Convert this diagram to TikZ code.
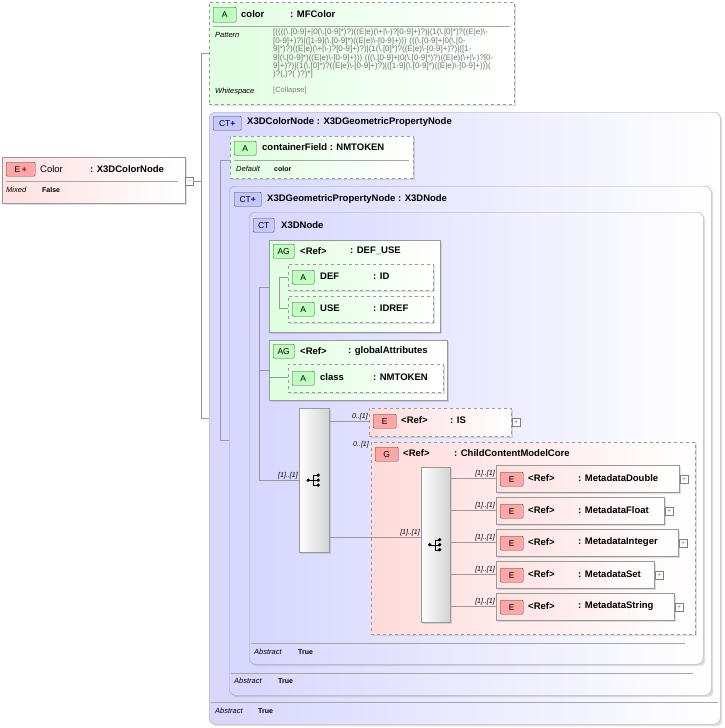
\documentclass[tikz,border=0pt]{standalone}
\usepackage{fontspec}
\setmainfont{Liberation Sans}
\usetikzlibrary{shadows}
\begin{document}
\begin{tikzpicture}[x=1pt,y=-1pt,
  box/.style={draw=#1, inner sep=0pt, anchor=north west, drop shadow={opacity=0.25,shadow xshift=2pt,shadow yshift=-2pt}},
  grn/.style={box=gray!80, dashed, left color=green!12, right color=white},
  grns/.style={box=gray!80, left color=green!12, right color=white},
  pnk/.style={box=gray!80, dashed, left color=red!14, right color=white},
  pnks/.style={box=gray!80, left color=red!12, right color=white},
  ct/.style={box=gray!70, rounded corners=6pt, left color=blue!16, right color=white},
  seq/.style={box=gray!80, left color=white, right color=gray!35},
  bdg/.style={draw=black!70, anchor=north west, inner sep=0pt, font=\fontsize{8.5}{8.5}\selectfont, rounded corners=1pt},
  bA/.style={bdg, fill=green!25},
  bE/.style={bdg, fill=red!35},
  bC/.style={bdg, fill=blue!22},
  tt/.style={anchor=west, inner sep=0pt, font=\fontsize{9.5}{10}\bfseries\selectfont},
  tn/.style={anchor=west, inner sep=0pt, font=\fontsize{9.5}{10}\selectfont},
  sm/.style={anchor=west, inner sep=0pt, font=\fontsize{7.5}{8}\itshape\selectfont},
  smb/.style={anchor=west, inner sep=0pt, font=\fontsize{7}{8}\bfseries\selectfont},
  card/.style={anchor=south east, inner sep=1pt, font=\fontsize{7}{8}\itshape\selectfont},
  pl/.style={draw=gray, fill=white, minimum size=8pt, inner sep=0pt, anchor=west, font=\fontsize{7}{7}\selectfont, text=gray},
  ln/.style={draw=gray!80, line width=0.6pt},
  sep/.style={draw=gray!70}]
\useasboundingbox (0,0) rectangle (724,728);
\newcommand\bx[6]{\node[#6, minimum width={(#4-#2)*1pt}, minimum height={(#5-#3)*1pt}] (#1) at (#2,#3) {};}
% outer CT
\bx{ctA}{209}{112}{720}{724}{ct}
\bx{ctB}{229}{186}{711}{695}{ct}
\bx{ctC}{249}{212}{703}{664}{ct}
% color attr
\bx{colorA}{209}{2}{514}{104}{grn}
\node[bA, minimum width=23pt, minimum height=15pt] (bcol) at (213,7) {A};
\node[tt] (colN) at (241,14) {color};
\node[tt] (colT) at (290,14) {: MFColor};
\draw[sep] (213,26) -- (510,26);
\node[sm] (pat) at (215,35) {Pattern};
\node[anchor=north west, inner sep=0pt, text width=238pt, align=left, text=gray!90!black, font=\fontsize{8}{8.4}\selectfont] (patv) at (273,29) {[((((\textbackslash.[0-9]+|0(\textbackslash.[0-9]*)?)((E|e)(\textbackslash+|\textbackslash-)?[0-9]+)?)|(1(\textbackslash.[0]*)?((E|e)\textbackslash-[0-9]+)?)|([1-9](\textbackslash.[0-9]*)((E|e)\textbackslash-[0-9]+))) (((\textbackslash.[0-9]+|0(\textbackslash.[0-9]*)?)((E|e)(\textbackslash+|\textbackslash-)?[0-9]+)?)|(1(\textbackslash.[0]*)?((E|e)\textbackslash-[0-9]+)?)|([1-9](\textbackslash.[0-9]*)((E|e)\textbackslash-[0-9]+))) (((\textbackslash.[0-9]+|0(\textbackslash.[0-9]*)?)((E|e)(\textbackslash+|\textbackslash-)?[0-9]+)?)|(1(\textbackslash.[0]*)?((E|e)\textbackslash-[0-9]+)?)|([1-9](\textbackslash.[0-9]*)((E|e)\textbackslash-[0-9]+)))( )?(,)?( )?)*]\par};
\node[sm] (ws) at (215,92) {Whitespace};
\node[anchor=west, inner sep=0pt, text=gray, font=\fontsize{7.5}{8}\selectfont] (wsv) at (273,91) {[Collapse]};
% Color element
\bx{colE}{2}{157}{185}{203}{pnks}
\node[bE, minimum width=29pt, minimum height=14pt] (bce) at (6,162) {E\,\textcolor{red!70!black}{\textbf{+}}};
\node[tn] (ceN) at (40,169) {Color};
\node[tt] (ceT) at (90,169) {: X3DColorNode};
\draw[sep] (6,181) -- (178,181);
\node[sm] (mx) at (6,190) {Mixed};
\node[smb] (mxv) at (42,190) {False};
\node[pl] (plc) at (185,181) {$-$};
% CT A header
\node[bC, minimum width=28pt, minimum height=14pt] (bca) at (213,116) {CT\textcolor{blue!60!black}{\textbf{+}}};
\node[tt] (caN) at (247,122) {X3DColorNode : X3DGeometricPropertyNode};
\draw[sep] (211,702) -- (718,702);
\node[sm] (abA) at (215,711) {Abstract};
\node[smb] (abAv) at (258,711) {True};
% containerField
\bx{cf}{230}{136}{413}{178}{grn}
\node[bA, minimum width=22pt, minimum height=14pt] (bcf) at (234,141) {A};
\node[tt] (cfN) at (262,147) {containerField : NMTOKEN};
\draw[sep] (234,160) -- (409,160);
\node[sm] (df) at (236,169) {Default};
\node[smb] (dfv) at (274,169) {color};
% CT B header
\node[bC, minimum width=27pt, minimum height=14pt] (bcb) at (234,192) {CT\textcolor{blue!60!black}{\textbf{+}}};
\node[tt] (cbN) at (267,199) {X3DGeometricPropertyNode : X3DNode};
\draw[sep] (231,673) -- (693,673);
\node[sm] (abB) at (234,681) {Abstract};
\node[smb] (abBv) at (278,681) {True};
% CT C header
\node[bC, minimum width=21pt, minimum height=14pt] (bcc) at (253,218) {CT};
\node[tt] (ccN) at (281,225) {X3DNode};
\draw[sep] (251,643) -- (685,643);
\node[sm] (abC) at (254,652) {Abstract};
\node[smb] (abCv) at (298,652) {True};
% AG DEF_USE
\bx{ag1}{269}{240}{440}{332}{grns}
\node[bA, minimum width=21pt, minimum height=14pt] (bag1) at (273,244) {AG};
\node[tt] (ag1N) at (300,251) {<Ref>};
\node[tt] (ag1T) at (350,251) {: DEF\_USE};
\bx{def}{288}{264}{433}{290}{grn}
\node[bA, minimum width=22pt, minimum height=14pt] (bdef) at (292,270) {A};
\node[tt] (defN) at (320,276) {DEF};
\node[tt] (defT) at (373,276) {: ID};
\bx{use}{288}{296}{433}{322}{grn}
\node[bA, minimum width=22pt, minimum height=14pt] (buse) at (292,302) {A};
\node[tt] (useN) at (320,308) {USE};
\node[tt] (useT) at (373,308) {: IDREF};
% AG global
\bx{ag2}{269}{340}{447}{400}{grns}
\node[bA, minimum width=21pt, minimum height=14pt] (bag2) at (273,344) {AG};
\node[tt] (ag2N) at (300,351) {<Ref>};
\node[tt] (ag2T) at (348,351) {: globalAttributes};
\bx{cls}{288}{364}{443}{392}{grn}
\node[bA, minimum width=22pt, minimum height=14pt] (bcls) at (292,371) {A};
\node[tt] (clsN) at (320,377) {class};
\node[tt] (clsT) at (373,377) {: NMTOKEN};
% sequence 1
\bx{sq1}{299}{408}{329}{552}{seq}
% IS
\bx{is}{369}{408}{511}{436}{pnk}
\node[bE, minimum width=23pt, minimum height=14pt] (bis) at (373,414) {E};
\node[tt] (isN) at (401,420) {<Ref>};
\node[tt] (isT) at (450,420) {: IS};
\node[pl] (plis) at (512,422) {+};
% G
\bx{g}{371}{442}{695}{634}{pnk}
\node[bE, minimum width=23pt, minimum height=14pt] (bg) at (375,447) {G};
\node[tt] (gN) at (403,453) {<Ref>};
\node[tt] (gT) at (454,453) {: ChildContentModelCore};
\bx{sq2}{421}{467}{450}{622}{seq}
% metadata elements
\foreach \nm/\y/\xe in {MetadataDouble/465/679,MetadataFloat/497/664,MetadataInteger/529/678,MetadataSet/561/654,MetadataString/593/674}{
  \bx{m\nm}{496}{\y}{\xe}{\y+27}{pnks}
  \node[bE, minimum width=23pt, minimum height=14pt] (b\nm) at (500,\y+7) {E};
  \node[tt] (r\nm) at (528,\y+13.5) {<Ref>};
  \node[tt] (t\nm) at (578,\y+13.5) {: \nm};
  \node[pl] (p\nm) at (\xe+1,\y+14) {+};
  \draw[ln] (sq2.east |- m\nm.west) -- (m\nm.west) node[card, pos=1] {[1]..[1]};
}
% sequence icons
\foreach \s in {sq1,sq2}{
  \begin{scope}[shift={(\s.center)}]
    \fill (-6,0) circle (1.8);
    \draw (-6,0) -- (-1,0) (-1,-5) -- (-1,5) (-1,-5) -- (3,-5) (-1,5) -- (3,5) (-1,0) -- (3,0);
    \fill (4,-5) circle (1.8) (4,0) circle (1.8) (4,5) circle (1.8);
  \end{scope}}
% connectors
\draw[ln] (plc.east) -- (201,181);
\draw[ln] (201,53) -- (201,418);
\draw[ln] (201,53) -- (colorA.west |- 0,53);
\draw[ln] (201,418) -- (ctA.west |- 0,418);
\draw[ln] (220,160) -- (220,440);
\draw[ln] (220,160) -- (cf.west |- 0,160);
\draw[ln] (220,440) -- (ctB.west |- 0,440);
\draw[ln] (259,287) -- (259,480);
\draw[ln] (259,287) -- (ag1.west |- 0,287);
\draw[ln] (259,370) -- (ag2.west |- 0,370);
\draw[ln] (259,480) -- (sq1.west |- 0,480) node[card, pos=1] {[1]..[1]};
\draw[ln] (279,277) -- (279,308);
\draw[ln] (279,277) -- (def.west |- 0,277);
\draw[ln] (279,308) -- (use.west |- 0,308);
\draw[ln] (279,377) -- (cls.west |- 0,377);
\draw[ln] (270,377) -- (279,377);
\draw[ln] (sq1.east |- 0,421) -- (is.west |- 0,421) node[card, pos=1] {0..[1]};
\node[card] (gc) at (370,449) {0..[1]};
\draw[ln] (sq1.east |- 0,537) -- (sq2.west |- 0,537) node[card, pos=1] {[1]..[1]};
\end{tikzpicture}
\end{document}
